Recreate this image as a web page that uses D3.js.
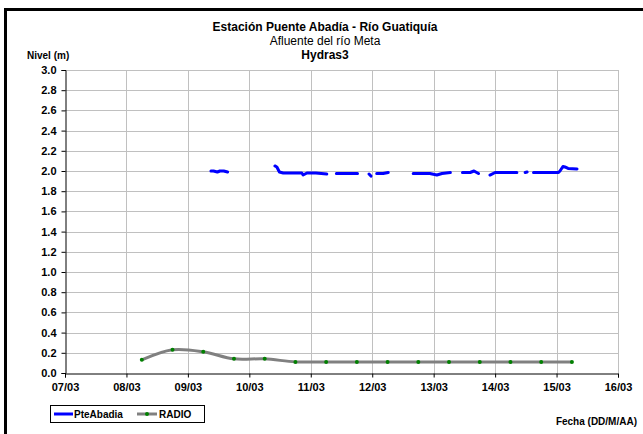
<!DOCTYPE html>
<html><head><meta charset="utf-8">
<script src="https://cdn.jsdelivr.net/npm/d3@7"></script>
<style>
html,body{margin:0;padding:0;background:#fff;}
svg{display:block;font-family:"Liberation Sans",Arial,sans-serif;}
</style></head>
<body><svg id="c" width="643" height="434"></svg>
<script>
// ---- data ----
const xTickLabels = ["07/03","08/03","09/03","10/03","11/03","12/03","13/03","14/03","15/03","16/03"];
const yTickValues = [0,0.2,0.4,0.6,0.8,1.0,1.2,1.4,1.6,1.8,2.0,2.2,2.4,2.6,2.8,3.0];
// PteAbadia: timestamps and values (null = gap)
const pteTimes = [
 "09/03 09:00","09/03 10:00","09/03 11:30","09/03 12:30","09/03 14:00","09/03 15:30",null,
 "10/03 10:00","10/03 10:45","10/03 11:45","10/03 13:15","10/03 16:00","10/03 20:30","10/03 21:00","10/03 22:30","11/03 02:00","11/03 06:15",null,
 "11/03 10:00","11/03 18:15",null,
 "11/03 22:45","11/03 23:30",null,
 "12/03 01:45","12/03 04:15","12/03 06:15",null,
 "12/03 16:00","12/03 22:30","13/03 01:15","13/03 03:15","13/03 06:30",null,
 "13/03 11:15","13/03 14:15","13/03 15:45","13/03 17:30",null,
 "13/03 22:00","14/03 00:00","14/03 08:30",null,
 "14/03 11:45","14/03 12:30",null,
 "14/03 15:00","15/03 00:45","15/03 01:20","15/03 02:30","15/03 03:15","15/03 04:30","15/03 08:00"
];
const pteValues = [
 2.00,2.00,1.99,2.00,2.00,1.99,null,
 2.05,2.04,1.99,1.98,1.98,1.98,1.96,1.98,1.98,1.97,null,
 1.975,1.975,null,
 1.97,1.95,null,
 1.975,1.975,1.985,null,
 1.975,1.975,1.96,1.975,1.985,null,
 1.985,1.985,2.00,1.975,null,
 1.96,1.985,1.985,null,
 1.985,1.99,null,
 1.985,1.985,2.00,2.045,2.04,2.025,2.02
];
const radioTimes = ["08/03 06:00","08/03 18:00","09/03 06:00","09/03 18:00","10/03 06:00","10/03 18:00","11/03 06:00","11/03 18:00","12/03 06:00","12/03 18:00","13/03 06:00","13/03 18:00","14/03 06:00","14/03 18:00","15/03 06:00"];
const radioValues = [0.13,0.23,0.21,0.14,0.14,0.11,0.11,0.11,0.11,0.11,0.11,0.11,0.11,0.11,0.11];

// ---- chart ----
const parse = d3.timeParse("%d/%m %H:%M");
const svg = d3.select("#c");
const W = 643, H = 434;
const m = {left:65, right:618, top:70, bottom:373};

// outer border (top and left visible)
svg.append("rect").attr("x",5.5).attr("y",9.5).attr("width",W+10).attr("height",H+10)
  .attr("fill","none").attr("stroke","#000").attr("stroke-width",3);

const x = d3.scaleTime()
  .domain([parse(xTickLabels[0]+" 00:00"), parse(xTickLabels[xTickLabels.length-1]+" 00:00")])
  .range([m.left, m.right]);
const y = d3.scaleLinear().domain([0,3]).range([m.bottom, m.top]);
const xTicks = xTickLabels.map(s=>parse(s+" 00:00"));

// gridlines
const g = svg.append("g");
g.selectAll(".hg").data(yTickValues.slice(1)).join("line")
  .attr("x1",m.left).attr("x2",m.right).attr("y1",d=>Math.round(y(d))+0.5).attr("y2",d=>Math.round(y(d))+0.5)
  .attr("stroke","#c0c0c0").attr("stroke-width",1);
g.selectAll(".vg").data(xTicks.slice(1)).join("line")
  .attr("x1",d=>Math.round(x(d))+0.5).attr("x2",d=>Math.round(x(d))+0.5).attr("y1",m.top).attr("y2",m.bottom)
  .attr("stroke","#c0c0c0").attr("stroke-width",1);

// axes
const yAxis = d3.axisLeft(y).tickValues(yTickValues).tickFormat(d3.format(".1f")).tickSize(4).tickPadding(5);
const ya = svg.append("g").attr("transform",`translate(${m.left+0.5},0)`).call(yAxis);
const xAxis = d3.axisBottom(x).tickValues(xTicks).tickFormat((d,i)=>xTickLabels[i]).tickSize(4).tickPadding(6);
const xa = svg.append("g").attr("transform",`translate(0,${m.bottom+0.5})`).call(xAxis);
[ya,xa].forEach(a=>{
  a.select(".domain").attr("stroke","#000");
  a.selectAll(".tick line").attr("stroke","#000");
  a.selectAll("text").attr("font-size",11).attr("font-weight","bold").attr("fill","#000")
   .attr("font-family","Liberation Sans, Arial, sans-serif");
});

// PteAbadia line
const pte = pteTimes.map((t,i)=>({t: t?parse(t):null, v: pteValues[i]}));
const line = d3.line().defined(d=>d.t!==null && d.v!==null).x(d=>x(d.t)).y(d=>y(d.v));
svg.append("path").datum(pte).attr("d",line).attr("fill","none")
  .attr("stroke","#0000ff").attr("stroke-width",3).attr("stroke-linejoin","round").attr("stroke-linecap","round");

// RADIO line
const radio = radioTimes.map((t,i)=>({t: parse(t), v: radioValues[i]}));
const sline = d3.line().curve(d3.curveCatmullRom.alpha(0.5)).x(d=>x(d.t)).y(d=>y(d.v));
svg.append("path").datum(radio).attr("d",sline).attr("fill","none")
  .attr("stroke","#808080").attr("stroke-width",3);
svg.selectAll(".rd").data(radio).join("circle")
  .attr("cx",d=>x(d.t)).attr("cy",d=>y(d.v)).attr("r",2).attr("fill","#008000");

// titles
const tt = svg.append("g").attr("font-family","Liberation Sans, Arial, sans-serif").attr("fill","#000");
tt.append("text").attr("x",325).attr("y",31).attr("text-anchor","middle").attr("font-size",12).attr("font-weight","bold").text("Estación Puente Abadía  - Río Guatiquía");
tt.append("text").attr("x",325).attr("y",45).attr("text-anchor","middle").attr("font-size",12).text("Afluente del río Meta");
tt.append("text").attr("x",325).attr("y",59).attr("text-anchor","middle").attr("font-size",12).attr("font-weight","bold").text("Hydras3");
tt.append("text").attr("x",27).attr("y",59).attr("font-size",10).attr("font-weight","bold").text("Nivel (m)");
tt.append("text").attr("x",637).attr("y",425).attr("text-anchor","end").attr("font-size",10).attr("font-weight","bold").text("Fecha (DD/M/AA)");

// legend
const lg = svg.append("g").attr("font-family","Liberation Sans, Arial, sans-serif");
lg.append("rect").attr("x",50.5).attr("y",405.5).attr("width",154).attr("height",17)
  .attr("fill","#fff").attr("stroke","#000").attr("stroke-width",1);
lg.append("line").attr("x1",54).attr("x2",73).attr("y1",414).attr("y2",414).attr("stroke","#0000ff").attr("stroke-width",3);
lg.append("text").attr("x",74).attr("y",418).attr("font-size",10).attr("font-weight","bold").text("PteAbadia");
lg.append("line").attr("x1",137).attr("x2",157).attr("y1",414).attr("y2",414).attr("stroke","#808080").attr("stroke-width",3);
lg.append("circle").attr("cx",147).attr("cy",414).attr("r",2).attr("fill","#008000");
lg.append("text").attr("x",159).attr("y",418).attr("font-size",10).attr("font-weight","bold").text("RADIO");
</script></body></html>
